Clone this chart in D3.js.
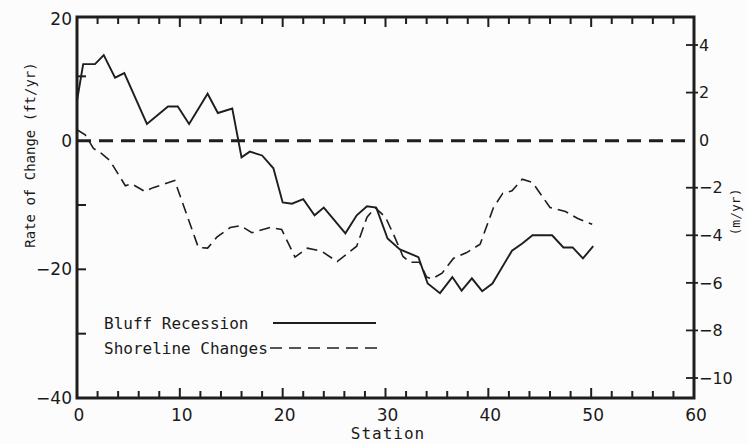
<!DOCTYPE html>
<html><head><meta charset="utf-8">
<script src="https://cdn.jsdelivr.net/npm/d3@7"></script>
<style>
html,body{margin:0;padding:0;background:#fcfcfc;}
svg{display:block;}
text{fill:#1a1a1a;}
</style></head>
<body>
<svg id="c" width="748" height="444"></svg>
<script>
// ---- data ----
const bluffStations = [0,0.6,1.75,2.6,3.7,4.6,6.8,8.85,9.8,10.9,12.7,13.7,15.1,16.0,16.8,18.0,19.1,20.0,20.9,22.0,23.1,24.0,26.1,27.2,28.2,29.1,30.2,31.4,33.2,34.1,35.3,36.5,37.4,38.4,39.4,40.4,42.3,43.3,44.3,46.2,47.3,48.2,49.2,50.2];
const bluffValues   = [6.2,11.9,11.9,13.3,9.8,10.5,2.6,5.3,5.3,2.6,7.3,4.3,5.0,-2.6,-1.7,-2.3,-4.3,-9.6,-9.8,-9.1,-11.6,-10.4,-14.4,-11.6,-10.2,-10.4,-15.2,-16.9,-18.1,-22.2,-23.7,-21.2,-23.3,-21.4,-23.4,-22.2,-17.1,-16.0,-14.7,-14.7,-16.6,-16.6,-18.3,-16.4];
const shoreStations = [0,0.8,1.6,2.4,3.2,4.7,5.3,6.6,7.4,8.4,9.5,11.8,12.7,13.6,14.9,15.9,17.0,18.8,19.9,21.2,22.4,23.8,25.3,27.2,28.2,29.0,30.0,30.9,31.7,32.4,33.3,34.0,34.5,35.5,36.6,37.9,39.2,40.5,41.4,42.3,43.3,44.3,46.0,47.5,48.7,50.1];
const shoreValues   = [1.7,0.9,-1.2,-2.0,-3.1,-7.0,-6.7,-7.9,-7.3,-6.8,-6.2,-16.6,-16.7,-15.0,-13.5,-13.2,-14.3,-13.5,-13.8,-18.1,-16.7,-17.2,-18.8,-16.4,-11.9,-10.4,-11.9,-15.0,-18.0,-18.9,-18.9,-21.2,-21.5,-20.6,-18.3,-17.4,-16.1,-10.4,-8.2,-7.8,-6.0,-6.5,-10.4,-11.0,-12.1,-13.0];
const xTickLabels = [0,10,20,30,40,50,60];
const leftTickLabels = [20,0,-20,-40];
const rightTickLabels = [4,2,0,-2,-4,-6,-8,-10];
const seriesNames = ["Bluff Recession","Shoreline Changes"];

// ---- layout ----
const svg = d3.select("#c");
const L = 77, R = 694, T = 17, B = 398;
const x = d3.scaleLinear().domain([0,60]).range([L,R]);
const y = d3.scaleLinear().domain([20,-40]).range([12,B]);
const yR = d3.scaleLinear().domain([4,-10]).range([45,378]);
const ink = "#1e1e1e";
const numFont = "DejaVu Sans";
const monoFont = "DejaVu Sans Mono";

// zero line
svg.append("line").attr("x1",L).attr("x2",R).attr("y1",y(0)).attr("y2",y(0))
  .attr("stroke",ink).attr("stroke-width",3).attr("stroke-dasharray","14,8");

// series
const line = d3.line().x(d=>x(d[0])).y(d=>y(d[1]));
const bluff = bluffStations.map((s,i)=>[s,bluffValues[i]]);
const shore = shoreStations.map((s,i)=>[s,shoreValues[i]]);
svg.append("path").attr("d",line(shore)).attr("fill","none").attr("stroke",ink)
  .attr("stroke-width",1.6).attr("stroke-dasharray","11,6");
svg.append("path").attr("d",line(bluff)).attr("fill","none").attr("stroke",ink)
  .attr("stroke-width",1.9).attr("stroke-linejoin","miter");

// x ticks (top & bottom, inward)
const xt = d3.range(0,61,2);
xt.forEach(v=>{
  if(v===0||v===60) return;
  const major = v%10===0;
  const len = major?10:7;
  svg.append("line").attr("x1",x(v)).attr("x2",x(v)).attr("y1",B).attr("y2",B-len).attr("stroke",ink).attr("stroke-width",2);
  svg.append("line").attr("x1",x(v)).attr("x2",x(v)).attr("y1",T).attr("y2",T+len).attr("stroke",ink).attr("stroke-width",2);
});
// left ticks
[10,-10,-20,-30].forEach(v=>{
  svg.append("line").attr("x1",L).attr("x2",L+9).attr("y1",y(v)).attr("y2",y(v)).attr("stroke",ink).attr("stroke-width",2);
});
// right ticks
rightTickLabels.forEach(v=>{
  if(v===0) return;
  svg.append("line").attr("x1",R-8).attr("x2",R+4).attr("y1",yR(v)).attr("y2",yR(v)).attr("stroke",ink).attr("stroke-width",1.8);
});

// frame
svg.append("rect").attr("x",L).attr("y",T).attr("width",R-L).attr("height",B-T)
  .attr("fill","none").attr("stroke",ink).attr("stroke-width",3);

// x labels
xTickLabels.forEach(v=>{
  svg.append("text").attr("x",x(v)+2).attr("y",421).attr("text-anchor","middle")
    .attr("font-family",numFont).attr("font-size",17).text(v);
});
svg.append("text").attr("x",388).attr("y",439).attr("text-anchor","middle")
  .attr("font-family",monoFont).attr("font-size",16).attr("letter-spacing",1).text("Station");

// left labels
leftTickLabels.forEach(v=>{
  const yy = Math.max(y(v), T+2);
  svg.append("text").attr("x",L-5).attr("y",yy).attr("dy","0.36em").attr("text-anchor","end")
    .attr("font-family",numFont).attr("font-size",17).text(v<0? "\u2212"+Math.abs(v) : v);
});
svg.append("text").attr("transform",`translate(35,155) rotate(-90)`).attr("text-anchor","middle")
  .attr("font-family",monoFont).attr("font-size",14).text("Rate of Change (ft/yr)");

// right labels
rightTickLabels.forEach(v=>{
  svg.append("text").attr("x",R+5).attr("y",yR(v)).attr("dy","0.36em").attr("text-anchor","start")
    .attr("font-family",numFont).attr("font-size",16).text(v<0? "\u2212"+Math.abs(v) : v);
});
svg.append("text").attr("transform",`translate(740,212) rotate(-90)`).attr("text-anchor","middle")
  .attr("font-family",monoFont).attr("font-size",13).text("(m/yr)");

// legend
svg.append("text").attr("x",104).attr("y",329).attr("font-family",monoFont).attr("font-size",16).text(seriesNames[0]);
svg.append("line").attr("x1",273).attr("x2",376).attr("y1",323).attr("y2",323).attr("stroke",ink).attr("stroke-width",1.8);
svg.append("text").attr("x",104).attr("y",354).attr("font-family",monoFont).attr("font-size",16).text(seriesNames[1]);
svg.append("line").attr("x1",270).attr("x2",378).attr("y1",348).attr("y2",348).attr("stroke",ink).attr("stroke-width",1.6).attr("stroke-dasharray","12,7");
</script>
</body></html>
